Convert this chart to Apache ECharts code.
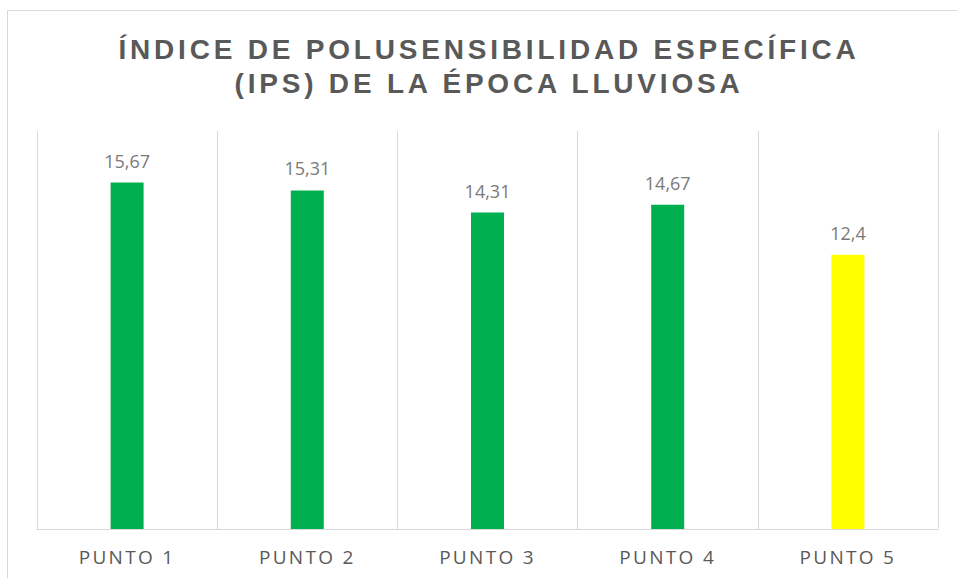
<!DOCTYPE html>
<html>
<head>
<meta charset="utf-8">
<title>IPS época lluviosa</title>
<script src="https://cdn.jsdelivr.net/npm/echarts@6/dist/echarts.min.js"></script>
<style>
  html, body { margin: 0; padding: 0; background: #fff; }
  #chart { width: 957px; height: 578px; }
  /* espaciado de letras como en el original (renderer svg) */
  #chart text[style*="bold"] { letter-spacing: 3.8px; }
  #chart text[style*="19px"] { letter-spacing: 2.3px; }
</style>
</head>
<body>
<div id="chart"></div>
<script>
const categories = ['PUNTO 1', 'PUNTO 2', 'PUNTO 3', 'PUNTO 4', 'PUNTO 5']
const ipsValues = [15.67, 15.31, 14.31, 14.67, 12.4]
const barColors = ['#00B050', '#00B050', '#00B050', '#00B050', '#FFFF00']

const chart = echarts.init(document.getElementById('chart'), null, { renderer: 'svg' })

const option = {
  animation: false,
  title: {
    text: 'ÍNDICE DE POLUSENSIBILIDAD ESPECÍFICA\n(IPS) DE LA ÉPOCA LLUVIOSA',
    left: 489,
    top: 32,
    textAlign: 'center',
    padding: 0,
    textStyle: {
      fontFamily: 'Liberation Sans',
      fontSize: 28,
      fontWeight: 'bold',
      lineHeight: 34,
      color: '#595959'
    }
  },
  graphic: [
    {
      type: 'rect',
      silent: true,
      shape: { x: 7.5, y: 10.5, width: 980, height: 600 },
      style: { fill: 'none', stroke: '#d9d9d9', lineWidth: 1 }
    }
  ],
  grid: { left: 37, right: 19, top: 131, bottom: 49 },
  xAxis: {
    type: 'category',
    data: categories,
    axisLine: { lineStyle: { color: '#d9d9d9', width: 1 } },
    axisTick: { show: false },
    axisLabel: {
      margin: 18,
      fontFamily: 'Open Sans',
      fontSize: 19,
      color: '#595959'
    },
    splitLine: { show: true, interval: 0, lineStyle: { color: '#d9d9d9', width: 1 } }
  },
  yAxis: {
    type: 'value',
    min: 0,
    max: 18,
    show: false,
    splitLine: { show: false }
  },
  series: [
    {
      type: 'bar',
      barWidth: 33,
      data: ipsValues.map((v, i) => ({ value: v, itemStyle: { color: barColors[i] } })),
      label: {
        show: true,
        position: 'top',
        distance: 13,
        fontFamily: 'Open Sans',
        fontSize: 18,
        color: '#7a7a7a',
        formatter: p => String(p.value).replace('.', ',')
      }
    }
  ]
}

chart.setOption(option)
</script>
</body>
</html>
